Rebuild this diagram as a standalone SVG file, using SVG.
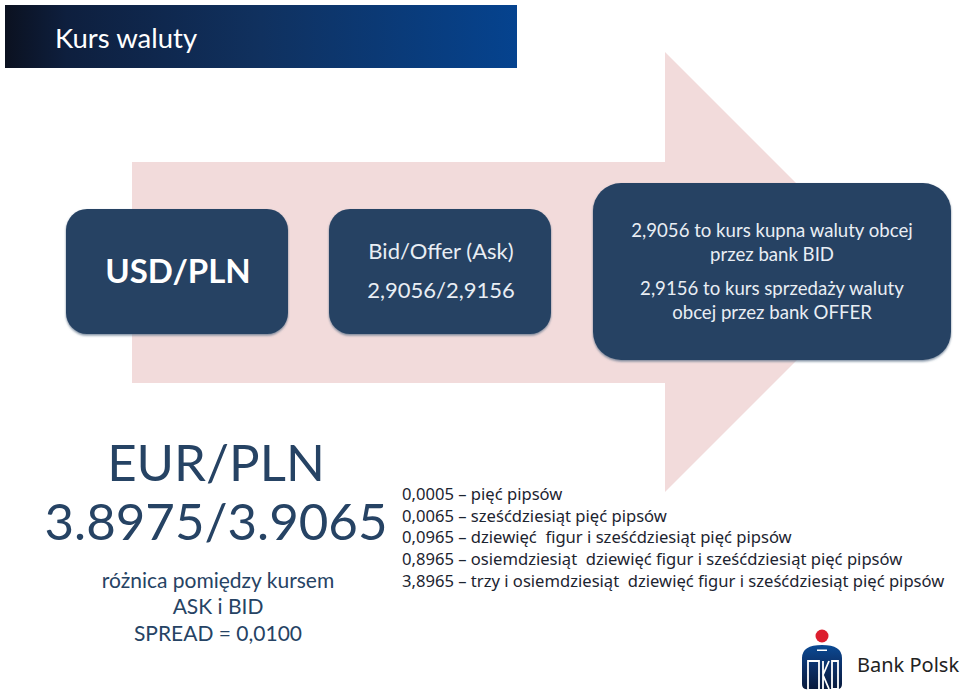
<svg xmlns="http://www.w3.org/2000/svg" width="960" height="692" viewBox="0 0 960 692">
<style>
text{font-family:"Lato","Noto Sans","Liberation Sans",sans-serif}
.box{fill:#264364;filter:url(#sh)}
.w{fill:#fff;text-anchor:middle}
.n{fill:#e9eef4;text-anchor:middle;font-size:18.6px}
.b{fill:#264364;text-anchor:middle}
.l{fill:#1c2430;font-size:16.6px;font-family:"Noto Sans","Lato",sans-serif}
</style>
<defs>
<linearGradient id="hd" x1="0" x2="1" y1="0" y2="0"><stop offset="0" stop-color="#0b1120"/><stop offset=".12" stop-color="#0e1f3e"/><stop offset=".5" stop-color="#10315f"/><stop offset="1" stop-color="#05438f"/></linearGradient>
<linearGradient id="lg" x1="0" x2="0" y1="0" y2="1"><stop offset="0" stop-color="#0b4a94"/><stop offset=".5" stop-color="#0c2f66"/><stop offset="1" stop-color="#081a3c"/></linearGradient>
<filter id="sh" x="-5%" y="-5%" width="110%" height="110%"><feDropShadow dx="0" dy="1.5" stdDeviation="1.2" flood-color="#5a6f88" flood-opacity=".8"/></filter>
</defs>
<rect width="960" height="692" fill="#fff"/>
<g id="header"><rect x="5" y="5" width="512" height="63" fill="url(#hd)"/><text x="55" y="48" font-size="27.5" fill="#fff">Kurs waluty</text></g>
<polygon id="arrow" points="132,162 665,162 665,52 885,272 665,492 665,383 132,383" fill="#f2dbdb"/>
<g id="usd"><rect class="box" x="66" y="209" width="222" height="125" rx="21"/><text class="w" x="178" y="283" font-size="33" font-weight="700">USD/PLN</text></g>
<g id="bid"><rect class="box" x="329" y="209" width="222" height="125" rx="21"/><text class="n" x="441" y="259" font-size="22" style="font-size:22px">Bid/Offer (Ask)</text><text class="n" x="441" y="298" style="font-size:22px">2,9056/2,9156</text></g>
<g id="info"><rect class="box" x="593" y="183" width="358" height="177" rx="28"/>
<text class="n" x="772" y="237">2,9056  to kurs kupna waluty obcej</text><text class="n" x="772" y="261">przez bank BID</text><text class="n" x="772" y="295">2,9156 to kurs sprzedaży waluty</text><text class="n" x="772" y="319">obcej przez bank OFFER</text></g>
<g id="eur"><text class="b" x="216" y="481" font-size="51">EUR/PLN</text><text class="b" x="216" y="540" font-size="51">3.8975/3.9065</text>
<text class="b" x="218" y="588" font-size="21">różnica pomiędzy kursem</text><text class="b" x="218" y="614" font-size="21">ASK i BID</text><text class="b" x="218" y="641" font-size="21">SPREAD = 0,0100</text></g>
<g id="pips">
<text class="l" x="402" y="500" xml:space="preserve">0,0005 – pięć pipsów</text>
<text class="l" x="402" y="522" xml:space="preserve">0,0065 – sześćdziesiąt pięć pipsów</text>
<text class="l" x="402" y="543" xml:space="preserve">0,0965 – dziewięć  figur i sześćdziesiąt pięć pipsów</text>
<text class="l" x="402" y="565" xml:space="preserve">0,8965 – osiemdziesiąt  dziewięć figur i sześćdziesiąt pięć pipsów</text>
<text class="l" x="402" y="587" xml:space="preserve">3,8965 – trzy i osiemdziesiąt  dziewięć figur i sześćdziesiąt pięć pipsów</text>
</g>
<g id="logo">
<circle cx="822" cy="636" r="6.5" fill="#dc1e2e"/>
<path d="M802 658q0-13 20-13t20 13v26q0 6-6 5h-28q-6 1-6-5z" fill="url(#lg)"/>
<rect x="817" y="649.500" width="10" height="1.500" fill="#fff"/>
<path d="M808 689v-28h11v28M823 689v-28M832 689v-28h6v28h-6M823 675l6-14M823 675l6 14" fill="none" stroke="#fff" stroke-width="1.800"/>
<text x="857" y="672" font-size="20" fill="#222" style="font-family:'Noto Sans',sans-serif">Bank Polski</text>
</g>
</svg>
